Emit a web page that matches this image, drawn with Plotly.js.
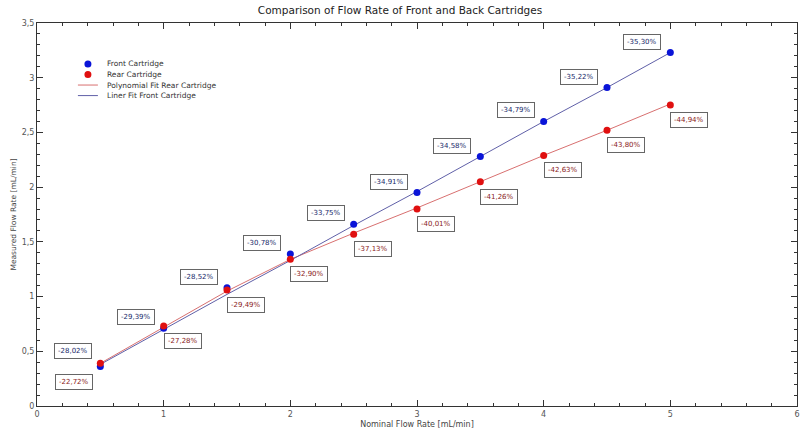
<!DOCTYPE html>
<html>
<head>
<meta charset="utf-8">
<script src="https://cdn.plot.ly/plotly-3.0.1.min.js"></script>
<style>
  html, body { margin: 0; padding: 0; background: #fff; }
  #chart { width: 800px; height: 432px; }
</style>
</head>
<body>
<div id="chart"></div>
<script>
// nominal flow (x) and measured flow (y)
var nominal = [0.5, 1, 1.5, 2, 2.5, 3, 3.5, 4, 4.5, 5];
var frontMeasured = [0.36, 0.71, 1.08, 1.39, 1.66, 1.95, 2.28, 2.60, 2.91, 3.23];
var rearMeasured = [0.39, 0.73, 1.06, 1.34, 1.57, 1.80, 2.05, 2.29, 2.52, 2.75];
// fit lines as drawn
var frontFit = [0.38, 0.70, 1.02, 1.33, 1.65, 1.96, 2.28, 2.60, 2.91, 3.23];
var rearFit = [0.39, 0.72, 1.05, 1.34, 1.58, 1.81, 2.05, 2.29, 2.52, 2.76];
// deviation labels
var frontLabels = ["-28,02%", "-29,39%", "-28,52%", "-30,78%", "-33,75%", "-34,91%", "-34,58%", "-34,79%", "-35,22%", "-35,30%"];
var rearLabels = ["-22,72%", "-27,28%", "-29,49%", "-32,90%", "-37,13%", "-40,01%", "-41,26%", "-42,63%", "-43,80%", "-44,94%"];
var legendNames = ["Front Cartridge", "Rear Cartridge", "Polynomial Fit Rear Cartridge", "Liner Fit Front Cartridge"];

var fontName = "DejaVu Sans, Verdana, sans-serif";
var blueDot = "#0a14d8", redDot = "#e01010";
var blueLine = "#6060a8", redLine = "#d87070";

// fit lines first so the dots sit on top
var traces = [
  { x: nominal, y: rearFit, mode: "lines", name: legendNames[2],
    line: { color: redLine, width: 1 } },
  { x: nominal, y: frontFit, mode: "lines", name: legendNames[3],
    line: { color: blueLine, width: 1 } },
  { x: nominal, y: frontMeasured, mode: "markers", name: legendNames[0],
    marker: { color: blueDot, size: 7 } },
  { x: nominal, y: rearMeasured, mode: "markers", name: legendNames[1],
    marker: { color: redDot, size: 7 } }
];

function box(x, y, text, color, dx, dy) {
  return {
    x: x, y: y, xref: "x", yref: "y", text: text, showarrow: false,
    xshift: dx, yshift: dy,
    font: { family: fontName, size: 7, color: color },
    bgcolor: "#ffffff", bordercolor: "#666666", borderwidth: 1, borderpad: 3
  };
}

var annotations = [];
for (var i = 0; i < nominal.length; i++) {
  annotations.push(box(nominal[i], frontMeasured[i], frontLabels[i], "#202a6a",
    i === 0 ? -27 : -28, i === 0 ? 16 : 11));
  annotations.push(box(nominal[i], rearMeasured[i], rearLabels[i], "#8a1a1a",
    i === 0 ? -26 : 19, i === 0 ? -19 : -15));
}

// compact legend (the built-in one has a larger row height than the original)
var shapes = [];
var legX = 0.067, legTextX = 0.089, legY = 0.893, legStep = 0.0275;
var legKinds = ["dot", "dot", "line", "line"];
var legColors = [blueDot, redDot, redLine, blueLine];
for (var k = 0; k < legendNames.length; k++) {
  var ly = legY - k * legStep;
  if (legKinds[k] === "dot") {
    shapes.push({ type: "circle", xref: "paper", yref: "paper",
      xsizemode: "pixel", ysizemode: "pixel", xanchor: legX, yanchor: ly,
      x0: -3.5, x1: 3.5, y0: -3.5, y1: 3.5,
      fillcolor: legColors[k], line: { width: 0 } });
  } else {
    shapes.push({ type: "line", xref: "paper", yref: "paper",
      xsizemode: "pixel", xanchor: legX, x0: -10, x1: 10, y0: ly, y1: ly,
      line: { color: legColors[k], width: 1 } });
  }
  annotations.push({ x: legTextX, y: ly, xref: "paper", yref: "paper",
    xanchor: "left", yanchor: "middle", showarrow: false, text: legendNames[k],
    font: { family: fontName, size: 7.5, color: "#333333" } });
}

var axisBase = {
  showline: true, linecolor: "#333333", linewidth: 1, mirror: "allticks",
  ticks: "inside", ticklen: 6, tickcolor: "#333333",
  showgrid: false, zeroline: false,
  tickfont: { family: fontName, size: 8, color: "#555555" }
};

var layout = {
  width: 800, height: 432,
  paper_bgcolor: "#ffffff", plot_bgcolor: "#ffffff",
  margin: { l: 37, r: 3, t: 23, b: 26 },
  separators: ", ",
  showlegend: false,
  title: {
    text: "Comparison of Flow Rate of Front and Back Cartridges",
    x: 0.5, xanchor: "center", y: 0.975, yanchor: "middle",
    font: { family: fontName, size: 10.5, color: "#222222" }
  },
  xaxis: Object.assign({}, axisBase, {
    range: [0, 6], dtick: 1,
    minor: { dtick: 0.2, ticks: "inside", ticklen: 3, tickcolor: "#333333" },
    title: { text: "Nominal Flow Rate [mL/min]", standoff: 3,
      font: { family: fontName, size: 8, color: "#444444" } }
  }),
  yaxis: Object.assign({}, axisBase, {
    range: [0, 3.5], dtick: 0.5,
    minor: { dtick: 0.1, ticks: "inside", ticklen: 3, tickcolor: "#333333" },
    title: { text: "Measured Flow Rate [mL/min]", standoff: 4,
      font: { family: fontName, size: 7.5, color: "#444444" } }
  }),
  shapes: shapes,
  annotations: annotations
};

Plotly.newPlot("chart", traces, layout, { staticPlot: true });
</script>
</body>
</html>
